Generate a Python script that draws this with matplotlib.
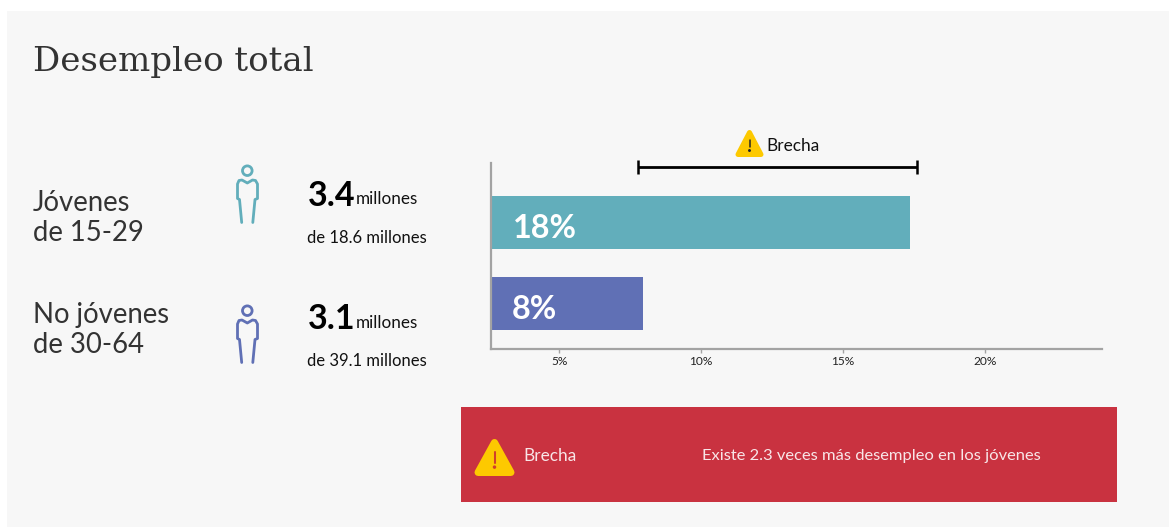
"""Desempleo total: youth vs non-youth unemployment bars with info panel."""
import matplotlib
matplotlib.use("Agg")
import matplotlib.pyplot as plt
from matplotlib.patches import Circle, Polygon, Rectangle

W, H = 1169, 527

# data
groups = ["Jóvenes\nde 15-29", "No jóvenes\nde 30-64"]
rates = [17.36, 7.94]
rate_labels = ["18%", "8%"]
counts = ["3.4", "3.1"]
totals = ["de 18.6 millones", "de 39.1 millones"]
tick_vals = [5, 10, 15, 20]
tick_labels = ["5%", "10%", "15%", "20%"]
gap_range = [7.76, 17.6]

TEAL = "#62aebb"
BLUE = "#6070b5"
RED = "#c93240"
YELLOW = "#fdc900"
GREY = "#a3a3a3"
DARK = "#333333"
BG = "#f7f7f7"

plt.rcParams["font.family"] = ["Lato", "DejaVu Sans"]

fig = plt.figure(figsize=(W / 100, H / 100), dpi=100, facecolor="white")

# overlay in pixel coordinates for the panel furniture
bg = fig.add_axes([0, 0, 1, 1])
bg.set_xlim(0, W)
bg.set_ylim(H, 0)
bg.axis("off")
bg.add_patch(Rectangle((7, 11), W - 7, H - 11, color=BG, lw=0))


def warning(ax, cx, top, w, h):
    # rounded triangle, thick round-joined edge does the corners
    pad = w * 0.09
    pts = [(cx, top + pad), (cx - w / 2 + pad, top + h - pad), (cx + w / 2 - pad, top + h - pad)]
    ax.add_patch(Polygon(pts, closed=True, fc=YELLOW, ec=YELLOW, lw=pad * 2 / 1.389, joinstyle="round", zorder=5))
    mark = "#d0402a" if h > 30 else "#222222"
    ax.plot([cx, cx], [top + h * 0.36, top + h * 0.64], color=mark,
            lw=h * 0.04, zorder=6, solid_capstyle="round")
    ax.add_patch(Circle((cx, top + h * 0.76), h * 0.028, color=mark, zorder=6))


def person(ax, dy, color):
    ax.add_patch(Circle((247.3, 170.7 + dy), 4.8, fc="none", ec=color, lw=2))
    xs = [241.7, 239.5, 237.5, 237.5, 239, 242, 247.3, 252.5, 255.5, 257.5, 257.5, 255, 252.8]
    ys = [222.5, 199.5, 198.5, 184, 180.5, 180, 183, 180, 180.5, 184, 198.5, 199.5, 222.5]
    ax.plot(xs, [y + dy for y in ys], color=color, lw=2, solid_capstyle="round", solid_joinstyle="round")


# title
bg.text(33, 61.5, "Desempleo total", family="DejaVu Serif", fontsize=24.5, color=DARK, va="center")

row_y = [0, 123]
colors = [TEAL, BLUE]
for i, dy in enumerate(row_y):
    bg.text(33, 218 + dy * 0.91, groups[i], fontsize=19.8, color=DARK, va="center", linespacing=1.2)
    person(bg, dy * 140 / 123, colors[i])
    bg.text(307.5, 196 + dy, counts[i], fontsize=24.5, fontweight="bold", color="black", va="center")
    bg.text(356, 199.5 + dy, "millones", fontsize=12.3, color="#111111", va="center")
    bg.text(307, 238 + dy, totals[i], fontsize=12, color="#111111", va="center")

# chart
L, R, T, B = 491, 1102, 163, 349
ax = fig.add_axes([L / W, 1 - B / H, (R - L) / W, (B - T) / H], facecolor="none")
ax.set_xlim(2.6, 24.12)
ax.set_ylim(1.562, -0.735)
ax.barh(range(len(rates)), rates, height=0.654, color=colors, zorder=1)
for i, lab in enumerate(rate_labels):
    ax.annotate(lab, (2.6, i), xytext=(22 if i == 0 else 21, -6), textcoords="offset pixels",
                fontsize=23.3, fontweight="bold", color="white", va="center", zorder=3)
for s in ["top", "right"]:
    ax.spines[s].set_visible(False)
for s in ["left", "bottom"]:
    ax.spines[s].set_color(GREY)
    ax.spines[s].set_linewidth(1.6)
    ax.spines[s].set_zorder(2)
ax.set_yticks([])
ax.set_xticks(tick_vals, tick_labels, fontsize=8.6, color="#222222")
ax.tick_params(axis="x", length=3, width=1, color=GREY, pad=2)

# gap bracket
ax.plot(gap_range, [-0.685, -0.685], color="black", lw=2, clip_on=False, solid_capstyle="butt")
for g in gap_range:
    ax.plot([g, g], [-0.77, -0.6], color="black", lw=1.8, clip_on=False, solid_capstyle="butt")

# top of the chart annotation, in pixel axes above the chart
top = fig.add_axes([0, 0, 1, 1], facecolor="none")
top.set_xlim(0, W)
top.set_ylim(H, 0)
top.axis("off")
warning(top, 749.5, 130, 28, 27)
top.text(766.5, 146, "Brecha", fontsize=12.4, color="#111111", va="center")

# red callout
top.add_patch(Rectangle((461, 407), 656, 95, color=RED, lw=0))
warning(top, 494.5, 439, 40, 37)
top.text(523.5, 456, "Brecha", fontsize=12.4, color="#f8e6e8", va="center")
top.text(702, 456, "Existe 2.3 veces más desempleo en los jóvenes", fontsize=11.87, color="#f8e6e8", va="center")

fig.savefig("out.png", dpi=100, facecolor="white")
